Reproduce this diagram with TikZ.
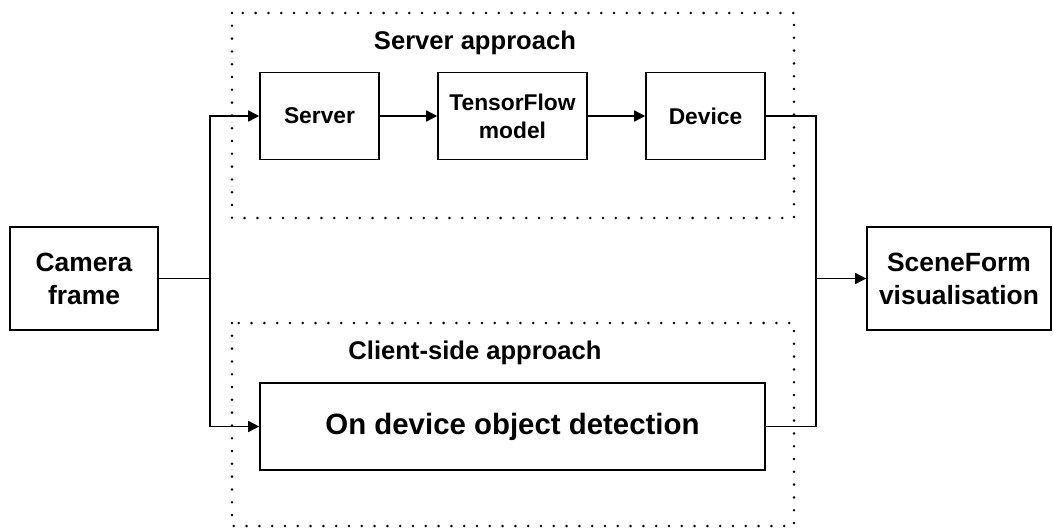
\documentclass[tikz,border=0pt]{standalone}
\usepackage{fontspec}
\setmainfont{Liberation Sans}
\usetikzlibrary{arrows.meta}
\tikzset{
  block/.style = {draw, line width=0.8pt, align=center, font=\bfseries\fontsize{11.4}{14}\selectfont},
  bigblock/.style = {block, font=\bfseries\fontsize{13.2}{16.5}\selectfont},
  groupbox/.style = {line width=1.4pt, line cap=round, dash pattern=on 0pt off 6.4pt},
  grouptitle/.style = {font=\bfseries\fontsize{12.8}{15}\selectfont},
  link/.style = {line width=0.8pt},
  arrow/.style = {link, -{Triangle[length=5.5pt,width=5.5pt]}}
}
\begin{document}
\begin{tikzpicture}[x=0.5pt,y=-0.5pt]
\useasboundingbox (0,0) rectangle (1053,531);
% dotted groups
\draw [groupbox] (232,13) rectangle (794,218);
\draw [groupbox] (232,323) rectangle (794,526);
\node [grouptitle] (servertitle) at (475,43) {Server approach};
\node [grouptitle] (clienttitle) at (475,353) {Client-side approach};
% blocks
\node [bigblock, minimum width=74pt, minimum height=51.5pt] (camera) at (84,278.5) {Camera\\frame};
\node [block, minimum width=59.5pt, minimum height=43.5pt] (server) at (319.5,116) {Server};
\node [block, minimum width=74.5pt, minimum height=43.5pt] (tfmodel) at (512.5,116) {TensorFlow\\model};
\node [block, minimum width=59.5pt, minimum height=43.5pt] (device) at (705.5,116) {Device};
\node [block, font=\bfseries\fontsize{14.7}{17}\selectfont, minimum width=252.5pt, minimum height=43.5pt] (ondevice) at (512.5,426.5) {On device object detection};
\node [bigblock, minimum width=92pt, minimum height=51.5pt] (sceneform) at (959,278.5) {SceneForm\\visualisation};
% junctions
\coordinate (split) at (210,278.5);
\coordinate (merge) at (816,278.5);
% connectors
\draw [link] (camera) -- (split);
\draw [arrow] (split) |- (server);
\draw [arrow] (split) |- (ondevice);
\draw [arrow] (server) -- (tfmodel);
\draw [arrow] (tfmodel) -- (device);
\draw [link] (device) -| (merge);
\draw [link] (ondevice) -| (merge);
\draw [arrow] (merge) -- (sceneform);
\end{tikzpicture}
\end{document}
